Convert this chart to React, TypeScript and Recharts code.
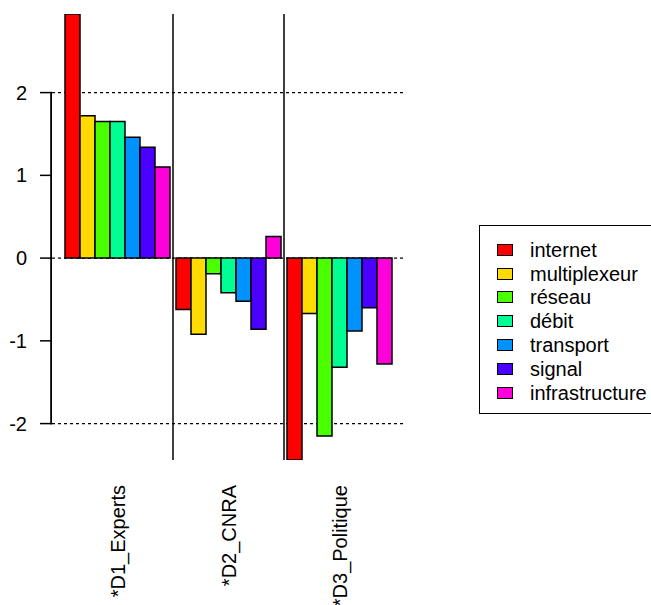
import React from 'react';
import { BarChart, Bar, XAxis, YAxis, CartesianGrid, ReferenceLine, Legend } from 'recharts';

const categories = ['*D1_Experts', '*D2_CNRA', '*D3_Politique'];
const seriesNames = ['internet', 'multiplexeur', 'réseau', 'débit', 'transport', 'signal', 'infrastructure'];
const seriesColors = ['#FF0000', '#FFDB00', '#49FF00', '#00FF92', '#0092FF', '#4900FF', '#FF00DB'];

const internet = [2.95, -0.62, -2.44];
const multiplexeur = [1.72, -0.92, -0.67];
const reseau = [1.65, -0.19, -2.15];
const debit = [1.65, -0.42, -1.32];
const transport = [1.46, -0.52, -0.88];
const signal = [1.34, -0.86, -0.6];
const infrastructure = [1.1, 0.26, -1.28];

const yTicks = [-2, -1, 0, 1, 2];
const gridValues = [-2, 0, 2];

const seriesValues = [internet, multiplexeur, reseau, debit, transport, signal, infrastructure];

const data = categories.map((name, i) => {
  const row: Record<string, string | number> = { name };
  seriesNames.forEach((s, j) => {
    row[s] = seriesValues[j][i];
  });
  return row;
});

const allValues = seriesValues.flat();
const Y_MIN = Math.min(...allValues);
const Y_MAX = Math.max(...allValues);

const FONT = '"Liberation Sans", Arial, sans-serif';
const FONT_SIZE = 20;
const PLOT_TOP = 14;
const PLOT_H = 446;
const unitPx = PLOT_H / (Y_MAX - Y_MIN);

// value -> pixel on the y axis
const yPx = (v: number) => PLOT_TOP + (Y_MAX - v) * unitPx;

// R-style axis: ticks, labels and a line running only from the first to the last tick
const YTick = (props: any) => {
  const { x, y, payload } = props;
  const v = Number(payload.value);
  const first = yTicks[0];
  const top = yPx(yTicks[yTicks.length - 1]);
  const bottom = yPx(first);
  return (
    <g>
      <line x1={x - 12} x2={x} y1={y} y2={y} stroke="#000" strokeWidth={1.5} />
      {v === first && <rect x={x - 1.8} y={top - 0.75} width={1.8} height={bottom - top + 1.5} fill="#000" />}
      <text x={x - 25} y={y} textAnchor="end" dominantBaseline="central" fontFamily={FONT} fontSize={FONT_SIZE} fill="#000">
        {v}
      </text>
    </g>
  );
};

const XTick = (props: any) => {
  const { x, payload } = props;
  return (
    <text
      transform={`translate(${x + 7}, 485) rotate(-90)`}
      textAnchor="end"
      fontFamily={FONT}
      fontSize={FONT_SIZE}
      fill="#000"
    >
      {payload.value}
    </text>
  );
};

const gridLines = ({ yAxis }: any) => {
  const sc = yAxis && yAxis.scale;
  if (typeof sc === 'function') return gridValues.map((v) => sc(v));
  if (sc && typeof sc.map === 'function') return gridValues.map((v) => sc.map(v));
  return gridValues.map(yPx);
};

const LegendBox = () => (
  <div
    style={{
      border: '1px solid #000',
      width: 180,
      height: 189,
      boxSizing: 'border-box',
      paddingTop: 12,
      fontFamily: FONT,
      fontSize: FONT_SIZE,
      background: '#fff',
    }}
  >
    {seriesNames.map((s, i) => (
      <div key={s} style={{ display: 'flex', alignItems: 'center', height: 23.8 }}>
        <span
          style={{
            display: 'inline-block',
            marginLeft: 17,
            width: 16,
            height: 12,
            boxSizing: 'border-box',
            border: '1.5px solid #000',
            background: seriesColors[i],
          }}
        />
        <span style={{ marginLeft: 17, color: '#000', lineHeight: 1 }}>{s}</span>
      </div>
    ))}
  </div>
);

export default function App() {
  return (
    <div style={{ position: 'absolute', left: 0, top: 0, width: 651, height: 605, overflow: 'hidden', background: '#fff' }}>
      <BarChart
        width={651}
        height={605}
        data={data}
        margin={{ top: PLOT_TOP, right: 246, bottom: 5, left: 0 }}
        barCategoryGap={3}
        barGap={0}
      >
        <CartesianGrid
          vertical={false}
          stroke="#000"
          strokeWidth={1.3}
          strokeDasharray="3 3"
          horizontalCoordinatesGenerator={gridLines}
        />
        <XAxis
          dataKey="name"
          height={140}
          interval={0}
          padding={{ left: 10, right: 10 }}
          axisLine={false}
          tickLine={false}
          tick={<XTick />}
        />
        <YAxis
          width={52}
          domain={[Y_MIN, Y_MAX]}
          allowDataOverflow
          ticks={yTicks}
          axisLine={false}
          tickLine={false}
          tickSize={0}
          tickMargin={0}
          tick={<YTick />}
        />
        {seriesNames.map((s, i) => (
          <Bar key={s} dataKey={s} fill={seriesColors[i]} stroke="#000" strokeWidth={1.5} isAnimationActive={false} />
        ))}
        <ReferenceLine x={categories[0]} position="end" stroke="#000" strokeWidth={1.5} />
        <ReferenceLine x={categories[1]} position="end" stroke="#000" strokeWidth={1.5} />
        <Legend
          layout="horizontal"
          align="center"
          verticalAlign="middle"
          content={() => <LegendBox />}
          wrapperStyle={{ position: 'absolute', left: 479, top: 225, width: 180 }}
        />
      </BarChart>
    </div>
  );
}
